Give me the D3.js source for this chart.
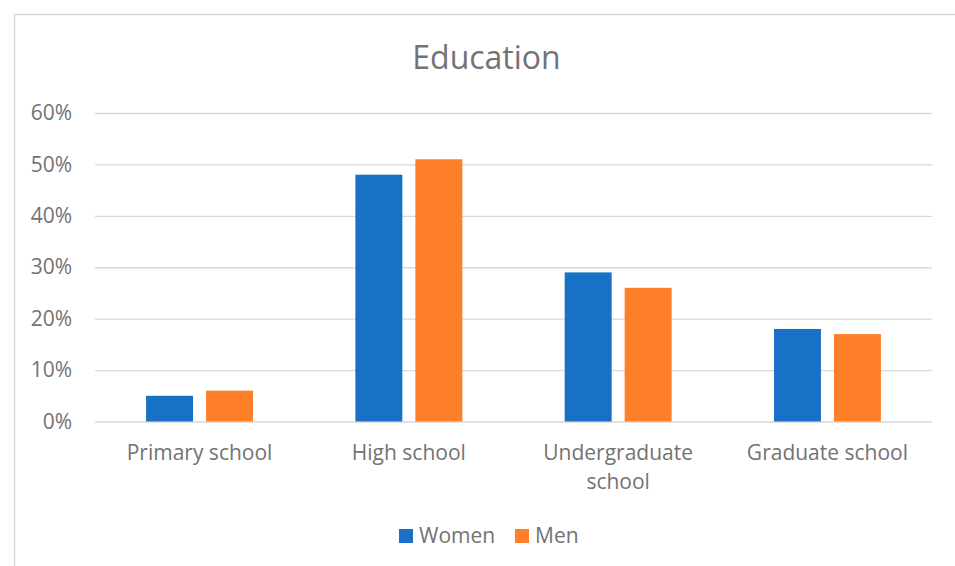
<!DOCTYPE html>
<html>
<head>
<meta charset="utf-8">
<script src="https://cdn.jsdelivr.net/npm/d3@7"></script>
<style>
  html, body { margin: 0; padding: 0; background: #fff; }
  svg { display: block; font-family: "Open Sans", sans-serif; }
</style>
</head>
<body>
<svg id="chart" width="955" height="566"></svg>
<script>
// Education chart - clustered columns, Women vs Men

const categories = [["Primary school"], ["High school"], ["Undergraduate", "school"], ["Graduate school"]];
const seriesNames = ["Women", "Men"];
const women = [0.05, 0.48, 0.29, 0.18];
const men   = [0.06, 0.51, 0.26, 0.17];
const yTicks = [0, 0.1, 0.2, 0.3, 0.4, 0.5, 0.6];

const COLORS = { Women: "#1871c6", Men: "#fe7f27" };
const TEXT = "#737373";
const GRID = "#d9d9d9";

const svg = d3.select("#chart");
const W = 955, H = 566;
const plot = { left: 95, right: 932, top: 113, bottom: 421.5 };

// chart frame (only left and top edges fall inside the picture)
svg.append("rect")
  .attr("x", 14.5).attr("y", 14.5)
  .attr("width", W).attr("height", H)
  .attr("fill", "none").attr("stroke", GRID).attr("stroke-width", 1.5);

// title
svg.append("text")
  .attr("x", 486.5).attr("y", 69)
  .attr("text-anchor", "middle")
  .attr("font-size", 32).attr("fill", TEXT)
  .text("Education");

// scales
const catKeys = categories.map(c => c.join(" "));
const x0 = d3.scaleBand().domain(catKeys)
  .range([plot.left, plot.right])
  .paddingInner(0.489).paddingOuter(0.244);
const x1 = d3.scaleBand().domain(seriesNames)
  .range([0, x0.bandwidth()])
  .paddingInner(0.217);
const y = d3.scaleLinear().domain([0, 0.6]).range([plot.bottom, plot.top]);

// gridlines + y labels
const yAxis = d3.axisLeft(y).tickValues(yTicks)
  .tickSize(-(plot.right - plot.left)).tickPadding(23)
  .tickFormat(d3.format(".0%"));
const gy = svg.append("g").attr("transform", `translate(${plot.left},0)`).call(yAxis);
gy.select(".domain").remove();
gy.selectAll(".tick line").attr("stroke", GRID).attr("stroke-width", 1.4);
gy.selectAll(".tick text")
  .attr("fill", TEXT).attr("font-size", 21)
  .attr("font-family", "Open Sans, sans-serif");

// bars
const rows = catKeys.map((k, i) => ({ key: k, values: [
  { s: "Women", v: women[i] }, { s: "Men", v: men[i] } ] }));

const groups = svg.append("g").selectAll("g")
  .data(rows).join("g")
  .attr("transform", d => `translate(${x0(d.key)},0)`);

groups.selectAll("rect")
  .data(d => d.values).join("rect")
  .attr("x", d => x1(d.s))
  .attr("width", x1.bandwidth())
  .attr("y", d => y(d.v))
  .attr("height", d => y(0) - y(d.v))
  .attr("fill", d => COLORS[d.s]);

// category labels
const xl = svg.append("g").selectAll("text")
  .data(categories).join("text")
  .attr("x", (d, i) => x0(catKeys[i]) + x0.bandwidth() / 2)
  .attr("y", 460)
  .attr("text-anchor", "middle")
  .attr("font-size", 21).attr("fill", TEXT);
xl.selectAll("tspan")
  .data(d => d).join("tspan")
  .attr("x", function () { return this.parentNode.getAttribute("x"); })
  .attr("dy", (d, i) => i === 0 ? 0 : 28.5)
  .text(d => d);

// legend
const legendX = { Women: 399, Men: 515 };
const lg = svg.append("g").selectAll("g")
  .data(seriesNames).join("g")
  .attr("transform", d => `translate(${legendX[d]},529)`);
lg.append("rect")
  .attr("width", 14).attr("height", 14)
  .attr("fill", d => COLORS[d]);
lg.append("text")
  .attr("x", 20).attr("y", 14)
  .attr("font-size", 21).attr("fill", TEXT)
  .text(d => d);
</script>
</body>
</html>
